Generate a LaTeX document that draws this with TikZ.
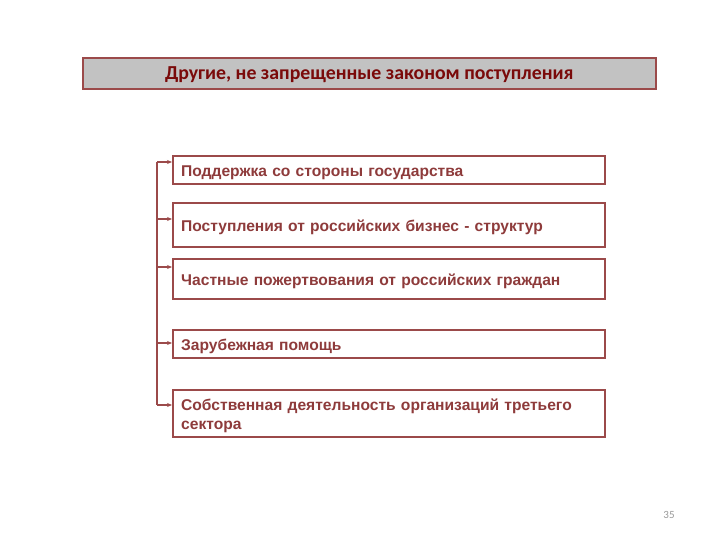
\documentclass[tikz,border=0pt]{standalone}
\usepackage{fontspec}
\setmainfont{Liberation Sans}
\newfontfamily\titlefont{Carlito}
\usetikzlibrary{arrows.meta}
\definecolor{boxred}{HTML}{9B4A4A}
\definecolor{txtred}{HTML}{8E3B3B}
\definecolor{titlered}{HTML}{7A0A0A}
\definecolor{titlegray}{HTML}{C2C2C2}
\tikzset{
  x=1pt, y=-1pt,
  itembox/.style={draw=boxred, line width=1.6pt, fill=white, anchor=north west, minimum width=432pt},
  itemtext/.style={anchor=west, xshift=9pt, yshift=-2.5pt, inner sep=0pt, text width=416pt, align=left,
    font=\bfseries\fontsize{15.6}{19}\selectfont, text=txtred},
  conn/.style={draw=boxred, line width=1.3pt},
  arr/.style={conn, -{Stealth[length=5pt,width=4pt]}}
}
\begin{document}
\begin{tikzpicture}
\useasboundingbox (0,0) rectangle (720,540);
\node[draw=boxred, line width=1.6pt, fill=titlegray, anchor=north west, minimum width=573pt, minimum height=31pt,
  font=\titlefont\bfseries\fontsize{19.8}{22}\selectfont, text=titlered, text depth=0pt] (title) at (82,57) {Другие, не запрещенные законом поступления};
\node[itembox, minimum height=28pt] (b1) at (172,155) {};
\node[itembox, minimum height=44pt] (b2) at (172,202) {};
\node[itembox, minimum height=40pt] (b3) at (172,258) {};
\node[itembox, minimum height=28pt] (b4) at (172,329) {};
\node[itembox, minimum height=47pt] (b5) at (172,389) {};
\node[itemtext] (t1) at (b1.west) {Поддержка со стороны государства};
\node[itemtext] (t2) at (b2.west) {Поступления от российских бизнес - структур};
\node[itemtext] (t3) at (b3.west) {Частные пожертвования от российских граждан};
\node[itemtext] (t4) at (b4.west) {Зарубежная помощь};
\node[itemtext] (t5) at (b5.west) {Собственная деятельность организаций третьего сектора};
\coordinate (c1) at (157,162);
\coordinate (c5) at (157,405);
\draw[conn] (c1) -- (c5);
\draw[arr] (c1) -- (c1 -| b1.west);
\draw[arr] (157,219) coordinate (c2) -- (c2 -| b2.west);
\draw[arr] (157,267) coordinate (c3) -- (c3 -| b3.west);
\draw[arr] (157,343) coordinate (c4) -- (c4 -| b4.west);
\draw[arr] (c5) -- (c5 -| b5.west);
\node[font=\titlefont\fontsize{11}{12}\selectfont, text=gray!80] (pg) at (669,515) {35};
\end{tikzpicture}
\end{document}
